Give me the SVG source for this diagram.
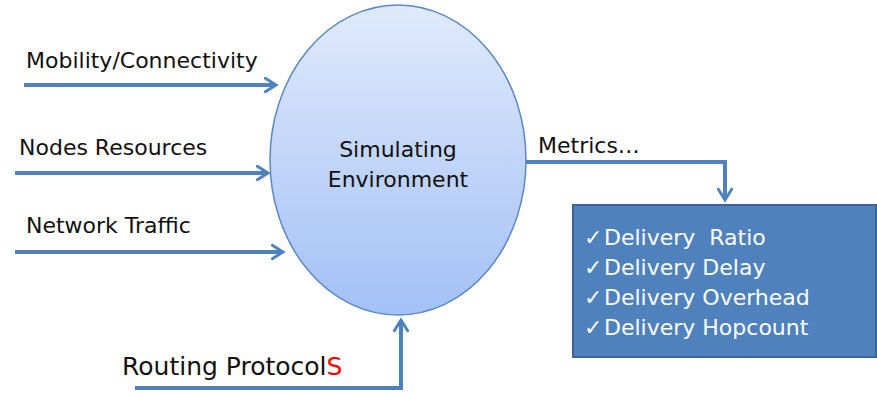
<svg xmlns="http://www.w3.org/2000/svg" width="877" height="395" viewBox="0 0 877 395">
<style>
text{font-family:"DejaVu Sans","Liberation Sans",sans-serif;fill:#111}
.conn{fill:none;stroke:#4F81BD;stroke-width:4;stroke-linejoin:miter}
.wt{fill:#fff;font-size:22px}
.ck{fill:#fff;font-size:22px}
</style>
<defs>
<linearGradient id="g" x1="0" y1="0" x2="0" y2="1">
<stop offset="0" stop-color="#E0EAFC"/>
<stop offset="1" stop-color="#A3C1F6"/>
</linearGradient>
<marker id="ah" viewBox="0 0 12 12" refX="10" refY="6" markerWidth="4" markerHeight="4" markerUnits="strokeWidth" orient="auto">
<path d="M2,1 L10,6 L2,11" fill="none" stroke="#4F81BD" stroke-width="2.2" stroke-linecap="round"/>
</marker>
</defs>
<g id="sim">
<ellipse cx="398" cy="160" rx="128" ry="155" fill="url(#g)" stroke="#5A88C6" stroke-width="1.5"/>
<text x="398" y="157" font-size="22" text-anchor="middle">Simulating</text>
<text x="398" y="187" font-size="22" text-anchor="middle">Environment</text>
</g>
<g id="metrics">
<rect x="573" y="205" width="303" height="152" fill="#4F81BD" stroke="#3A6496" stroke-width="2"/>
<text class="ck" x="584" y="245">✓</text>
<text class="ck" x="584" y="275">✓</text>
<text class="ck" x="584" y="305">✓</text>
<text class="ck" x="584" y="335">✓</text>
<text class="wt" x="604" y="245" xml:space="preserve">Delivery  Ratio</text>
<text class="wt" x="604" y="275">Delivery Delay</text>
<text class="wt" x="604" y="305">Delivery Overhead</text>
<text class="wt" x="604" y="335">Delivery Hopcount</text>
</g>
<g id="labels">
<text x="26" y="68" font-size="22">Mobility/Connectivity</text>
<text x="19" y="155" font-size="22">Nodes Resources</text>
<text x="26" y="233" font-size="22">Network Traffic</text>
<text x="538" y="153" font-size="22">Metrics…</text>
<text x="122" y="375" font-size="25">Routing Protocol<tspan fill="#FF0000">S</tspan></text>
</g>
<g id="connectors">
<path class="conn" d="M24,85 H276" marker-end="url(#ah)"/>
<path class="conn" d="M15,173 H268" marker-end="url(#ah)"/>
<path class="conn" d="M15,252 H283" marker-end="url(#ah)"/>
<path class="conn" d="M526,162 H725 V200" marker-end="url(#ah)"/>
<path class="conn" d="M135,388 H401 V320" marker-end="url(#ah)"/>
</g>
</svg>
